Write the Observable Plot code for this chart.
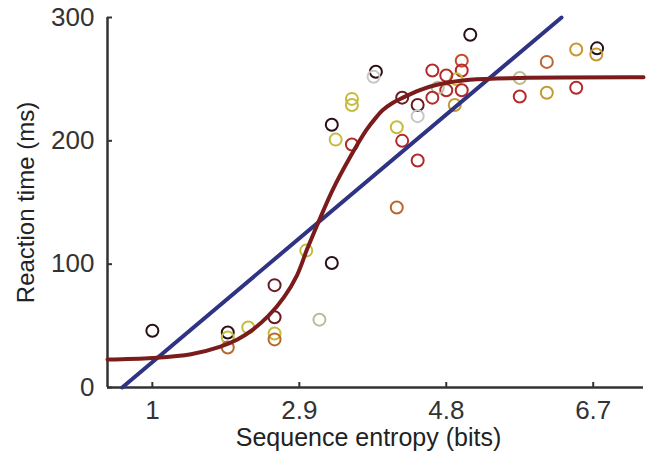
<!DOCTYPE html>
<html><head><meta charset="utf-8">
<script src="https://cdn.jsdelivr.net/npm/d3@7"></script>
<script src="https://cdn.jsdelivr.net/npm/@observablehq/plot@0.6"></script>
<style>body{margin:0;background:#fff}</style>
</head><body><div id="chart"></div>
<script>
// Data
const entropy = [1.0, 1.975, 1.975, 1.975, 2.24, 2.58, 2.58, 2.58, 2.58, 2.99, 3.32, 3.16,
  3.32, 3.37, 3.58, 3.58, 3.58, 3.89, 3.86, 5.11, 4.16, 4.23, 4.16, 4.23, 4.43, 4.43, 4.43,
  5.0, 5.0, 4.93, 5.0, 4.91, 4.8, 4.8, 4.69, 4.62, 4.62, 5.75, 5.75, 6.1, 6.1, 6.48, 6.48, 6.75, 6.74];
const reactionTime = [46, 44.6, 40.5, 32.4, 48.6, 83, 57, 43.8, 39, 111, 101, 55,
  213, 201, 197, 234, 229, 256, 252, 286, 146, 235, 211, 200, 229, 220, 184,
  265, 257, 250, 241, 229, 253, 241, 243, 257, 235, 251, 236, 264, 239, 274, 243, 275, 270];
const group = ["dark", "dark", "ygreen", "orange", "ygreen", "darkred", "darkred", "ygreen", "orange", "ygreen", "dark", "greyolive",
  "dark", "ygreen", "red", "ygreen", "ygreen", "dark", "grey", "dark", "orange", "darkred", "ygreen", "red", "darkred", "grey", "red",
  "orangered", "red", "ygreen", "red", "olivegold", "red", "red", "greyolive", "red", "red", "greyolive", "red", "orange", "olivegold", "olivegold", "red", "dark", "olivegold"];
const groupNames = ["dark", "darkred", "red", "orangered", "orange", "olivegold", "ygreen", "greyolive", "grey"];
const groupColors = ["#2a1015", "#6b1a22", "#b22a2a", "#c44a2a", "#bb6630", "#c49a30", "#c4bc3a", "#bcbc94", "#c8c8c8"];

// Sigmoid fit
const fitX = [0.42, 1.0, 1.5, 1.87, 2.1, 2.3, 2.5, 2.7, 2.87, 3.0, 3.14, 3.33, 3.55, 3.77, 3.88, 3.98, 4.1, 4.24, 4.45, 4.68, 5.1, 5.75, 7.35];
const fitY = [22.7, 24, 27, 33, 39, 47, 58, 73, 91, 112, 133, 160, 186, 209, 218, 225, 230.5, 235, 241, 245.5, 249.5, 251, 251.5];
// Linear fit end points
const linX = [0.61, 6.29];
const linY = [0, 300];

const xTicks = [1, 2.9, 4.8, 6.7];
const yTicks = [0, 100, 200, 300];
const xDomain = [0.42, 7.35];
const yDomain = [0, 300];
const xLabel = "Sequence entropy (bits)";
const yLabel = "Reaction time (ms)";

const points = entropy.map((x, i) => ({x, y: reactionTime[i], g: group[i]}));
const fit = fitX.map((x, i) => ({x, y: fitY[i]}));
const lin = linX.map((x, i) => ({x, y: linY[i]}));

const chart = Plot.plot({
  width: 650, height: 468,
  marginLeft: 107, marginRight: 7, marginTop: 17, marginBottom: 81,
  style: {fontFamily: "'Liberation Sans', Arial, sans-serif", background: "#fff", overflow: "visible"},
  x: {domain: xDomain},
  y: {domain: yDomain},
  color: {domain: groupNames, range: groupColors},
  marks: [
    Plot.axisX(xTicks, {tickSize: -5, tickPadding: 18, tickFormat: d => String(d), fontSize: 26, fill: "#333", stroke: "#333", strokeWidth: 2, label: null}),
    Plot.axisY(yTicks, {tickSize: -5, tickPadding: 18, tickFormat: d => String(d), fontSize: 26, fill: "#333", stroke: "#333", strokeWidth: 2, label: null}),
    Plot.ruleY([yDomain[0]], {stroke: "#333", strokeWidth: 2.5}),
    Plot.ruleX([xDomain[0]], {stroke: "#333", strokeWidth: 2.5}),
    Plot.dot(points, {x: "x", y: "y", stroke: "g", r: 6, strokeWidth: 2}),
    Plot.line(lin, {x: "x", y: "y", stroke: "#2e3483", strokeWidth: 4}),
    Plot.line(fit, {x: "x", y: "y", stroke: "#7a1c1c", strokeWidth: 4, curve: "catmull-rom"}),
    Plot.text([xLabel], {frameAnchor: "bottom", dx: -7, dy: 58, fontSize: 25, fill: "#222"}),
    Plot.text([yLabel], {frameAnchor: "left", textAnchor: "middle", dx: -81, rotate: -90, fontSize: 24, fill: "#222"})
  ]
});
document.getElementById("chart").appendChild(chart);
</script>
</body></html>
